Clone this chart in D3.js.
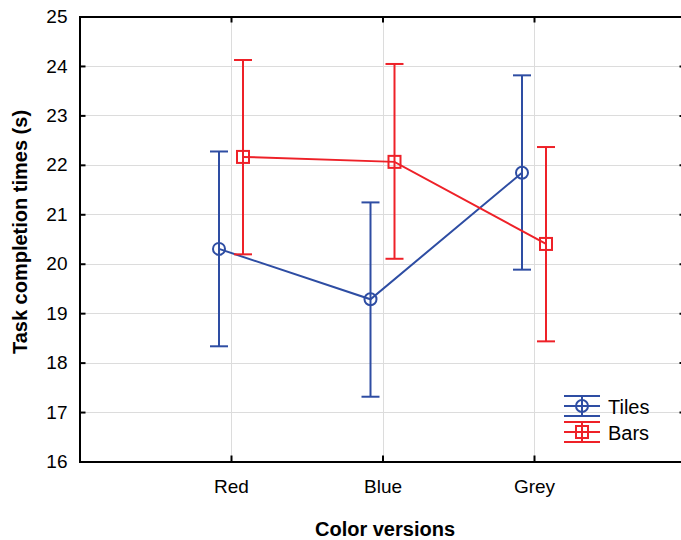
<!DOCTYPE html>
<html><head><meta charset="utf-8">
<script src="https://cdn.jsdelivr.net/npm/d3@7"></script>
<style>body{margin:0;background:#fff}svg{display:block}text{font-family:"Liberation Sans",Arial,sans-serif}</style>
</head><body><svg id="c" width="681" height="540"></svg>
<script>
const categories = ["Red", "Blue", "Grey"];
const tilesMean = [20.30, 19.28, 21.84];
const tilesLow  = [18.33, 17.31, 19.88];
const tilesHigh = [22.27, 21.24, 23.81];
const barsMean  = [22.16, 22.06, 20.40];
const barsLow   = [20.19, 20.10, 18.43];
const barsHigh  = [24.12, 24.04, 22.36];
const yTicks = [16, 17, 18, 19, 20, 21, 22, 23, 24, 25];
const seriesNames = ["Tiles", "Bars"];
const colors = {Tiles: "#2e4da3", Bars: "#ee2128"};

const svg = d3.select("#c");
const L = 79.5, R = 685.5, T = 16.5, B = 461.5;
const x = d3.scaleLinear().domain([0, 4]).range([L, R]);
const y = d3.scaleLinear().domain([16, 25]).range([B, T]);
const off = 12;
const FONT = '"Liberation Sans",Arial,sans-serif';

// grid
svg.append("g").selectAll("line.h").data(yTicks.slice(1, -1)).join("line")
  .attr("x1", L).attr("x2", R).attr("y1", d => Math.round(y(d)) + 0.5).attr("y2", d => Math.round(y(d)) + 0.5)
  .attr("stroke", "#dcdcdc").attr("stroke-width", 1);
svg.append("g").selectAll("line.v").data(categories).join("line")
  .attr("x1", (d, i) => Math.round(x(i + 1)) + 0.5).attr("x2", (d, i) => Math.round(x(i + 1)) + 0.5)
  .attr("y1", T).attr("y2", B).attr("stroke", "#dcdcdc").attr("stroke-width", 1);

// axes
const yAxisL = d3.axisLeft(y).tickValues(yTicks).tickSize(-6).tickPadding(12).tickFormat(d3.format("d"));
const gy = svg.append("g").attr("transform", `translate(${L},0)`).call(yAxisL);
const yAxisR = d3.axisRight(y).tickValues(yTicks).tickSize(-6).tickFormat("");
const gyr = svg.append("g").attr("transform", `translate(${R},0)`).call(yAxisR);
const xAxisB = d3.axisBottom(x).tickValues([1, 2, 3]).tickSize(-6).tickPadding(18).tickFormat(d => categories[d - 1]);
const gx = svg.append("g").attr("transform", `translate(0,${B})`).call(xAxisB);
const xAxisT = d3.axisTop(x).tickValues([1, 2, 3]).tickSize(-6).tickFormat("");
const gxt = svg.append("g").attr("transform", `translate(0,${T})`).call(xAxisT);
[gy, gyr, gx, gxt].forEach(g => {
  g.select(".domain").attr("stroke", "#000").attr("stroke-width", 2);
  g.selectAll(".tick line").attr("stroke", "#000").attr("stroke-width", 2);
  g.selectAll(".tick text").attr("font-size", 19).attr("fill", "#000").attr("font-family", FONT);
});

// series
const series = [
  {name: "Tiles", mean: tilesMean, low: tilesLow, high: tilesHigh, dx: -off, marker: "circle"},
  {name: "Bars", mean: barsMean, low: barsLow, high: barsHigh, dx: off, marker: "square"}
];
const line = d3.line().x(d => d[0]).y(d => d[1]);
series.forEach(s => {
  const c = colors[s.name];
  const g = svg.append("g");
  const pts = s.mean.map((m, i) => [x(i + 1) + s.dx, y(m)]);
  g.append("path").attr("d", line(pts)).attr("fill", "none").attr("stroke", c).attr("stroke-width", 2);
  s.mean.forEach((m, i) => {
    const cx = x(i + 1) + s.dx;
    g.append("line").attr("x1", cx).attr("x2", cx).attr("y1", y(s.low[i])).attr("y2", y(s.high[i])).attr("stroke", c).attr("stroke-width", 2);
    [s.low[i], s.high[i]].forEach(v => g.append("line").attr("x1", cx - 9).attr("x2", cx + 9).attr("y1", y(v)).attr("y2", y(v)).attr("stroke", c).attr("stroke-width", 2));
    if (s.marker === "circle") g.append("circle").attr("cx", cx).attr("cy", y(m)).attr("r", 6).attr("fill", "none").attr("stroke", c).attr("stroke-width", 2);
    else g.append("rect").attr("x", cx - 6).attr("y", y(m) - 6).attr("width", 12).attr("height", 12).attr("fill", "none").attr("stroke", c).attr("stroke-width", 2);
  });
});

// legend
const leg = svg.append("g");
seriesNames.forEach((n, i) => {
  const c = colors[n];
  const cy = 406 + i * 26, lx = 582;
  const g = leg.append("g");
  [-10, 0, 10].forEach(dy => g.append("line").attr("x1", lx - 18).attr("x2", lx + 18).attr("y1", cy + dy).attr("y2", cy + dy).attr("stroke", c).attr("stroke-width", 2));
  g.append("line").attr("x1", lx).attr("x2", lx).attr("y1", cy - 10).attr("y2", cy + 10).attr("stroke", c).attr("stroke-width", 2);
  if (i === 0) g.append("circle").attr("cx", lx).attr("cy", cy).attr("r", 6).attr("fill", "#fff").attr("stroke", c).attr("stroke-width", 2);
  else g.append("rect").attr("x", lx - 6).attr("y", cy - 6).attr("width", 12).attr("height", 12).attr("fill", "none").attr("stroke", c).attr("stroke-width", 2);
  if (i === 0) g.append("line").attr("x1", lx).attr("x2", lx).attr("y1", cy - 6).attr("y2", cy + 6).attr("stroke", c).attr("stroke-width", 2);
  if (i === 0) g.append("line").attr("x1", lx - 6).attr("x2", lx + 6).attr("y1", cy).attr("y2", cy).attr("stroke", c).attr("stroke-width", 2);
  g.append("text").attr("x", 608).attr("y", cy + 8).attr("font-size", 20).attr("fill", "#000").text(n);
});

// titles
svg.append("text").attr("x", 385).attr("y", 536).attr("text-anchor", "middle")
  .attr("font-size", 20).attr("font-weight", "bold").text("Color versions");
svg.append("text").attr("transform", `translate(27,232) rotate(-90)`).attr("text-anchor", "middle")
  .attr("font-size", 20).attr("font-weight", "bold").text("Task completion times (s)");
</script></body></html>
